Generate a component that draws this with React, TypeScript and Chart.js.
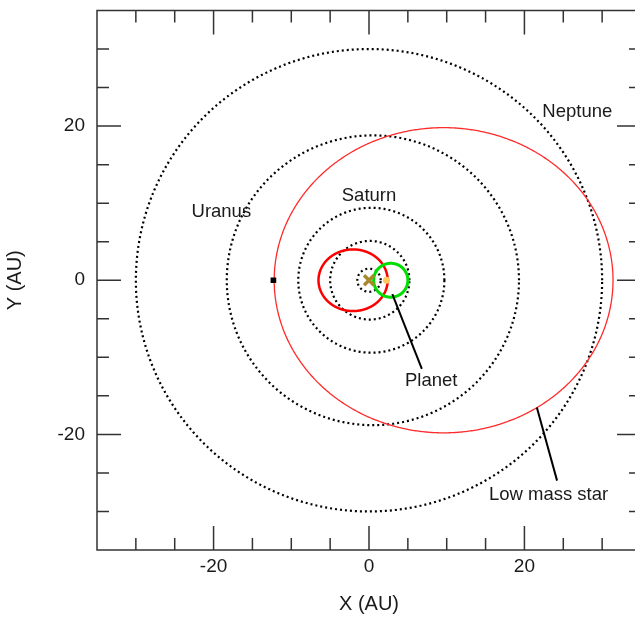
import { useEffect, useRef } from 'react';
import { Chart, registerables } from 'chart.js';

Chart.register(...registerables);

// Axis setup
const xRange = [-35, 35];
const yRange = [-35, 35];
const majorTicks = [-20, 0, 20];
const minorTicks = [-30, -25, -15, -10, -5, 5, 10, 15, 25, 30];

// Dotted planetary orbits (center x, center y, radius in AU)
const orbitNames = ['Inner', 'Jupiter', 'Saturn', 'Uranus', 'Neptune'];
const orbitCenterX = [0, 0.1, 0.3, 0.5, 0];
const orbitCenterY = [0, 0, 0, 0, 0];
const orbitRadius = [1.5, 5.1, 9.4, 18.8, 30];

// Red orbits (ellipses)
const redNames = ['Inner red orbit', 'Low mass star orbit'];
const redCenterX = [-2.05, 9.6];
const redCenterY = [0, 0];
const redSemiX = [4.45, 21.8];
const redSemiY = [4.0, 19.8];
const redWidths = [2.5, 1.3];

// Green planet orbit
const planetCenter = [2.8, 0];
const planetRadius = 2.2;

// Markers
const sunPoint = [{ x: 0, y: 0 }];
const starPoint = [{ x: 2.25, y: 0 }];
const squarePoint = [{ x: -12.3, y: 0 }];

// Annotation pointer lines
const planetPointer = [{ x: 3.0, y: -1.8 }, { x: 6.8, y: -11.5 }];
const starPointer = [{ x: 21.6, y: -16.5 }, { x: 24.2, y: -26.0 }];

// Text labels
const labelTexts = ['Neptune', 'Uranus', 'Saturn', 'Planet', 'Low mass star'];
const labelX = [26.8, -19.0, 0.0, 8.0, 23.1];
const labelY = [21.8, 8.9, 11.0, -13.0, -27.9];

const FONT = '"Liberation Sans", Arial, Helvetica, sans-serif';

function ellipsePoints(cx: number, cy: number, a: number, b: number) {
  const pts: { x: number; y: number }[] = [];
  for (let i = 0; i <= 360; i += 1) {
    const t = (i * Math.PI) / 180;
    pts.push({ x: cx + a * Math.cos(t), y: cy + b * Math.sin(t) });
  }
  return pts;
}

const framePlugin = {
  id: 'frameTicks',
  afterDatasetsDraw(chart: any) {
    const { ctx, chartArea } = chart;
    const xs = chart.scales.x;
    const ys = chart.scales.y;
    const { left, right, top, bottom } = chartArea;
    ctx.save();
    ctx.strokeStyle = '#333';
    ctx.lineWidth = 1.5;
    ctx.strokeRect(left, top, right - left, bottom - top);
    const drawX = (v: number, len: number) => {
      const px = xs.getPixelForValue(v);
      ctx.beginPath();
      ctx.moveTo(px, bottom);
      ctx.lineTo(px, bottom - len);
      ctx.moveTo(px, top);
      ctx.lineTo(px, top + len);
      ctx.stroke();
    };
    const drawY = (v: number, len: number) => {
      const py = ys.getPixelForValue(v);
      ctx.beginPath();
      ctx.moveTo(left, py);
      ctx.lineTo(left + len, py);
      ctx.moveTo(right, py);
      ctx.lineTo(right - len, py);
      ctx.stroke();
    };
    majorTicks.forEach((v) => { drawX(v, 24); drawY(v, 24); });
    minorTicks.forEach((v) => { drawX(v, 12); drawY(v, 12); });

    // labels
    ctx.fillStyle = '#1a1a1a';
    ctx.font = `18.5px ${FONT}`;
    ctx.textAlign = 'center';
    ctx.textBaseline = 'middle';
    labelTexts.forEach((t, i) => {
      ctx.fillText(t, xs.getPixelForValue(labelX[i]), ys.getPixelForValue(labelY[i]));
    });
    ctx.restore();
  },
};

export default function App() {
  const ref = useRef<HTMLCanvasElement | null>(null);

  useEffect(() => {
    if (!ref.current) return;
    const datasets: any[] = [];

    datasets.push({
      label: 'Sun',
      data: sunPoint,
      pointStyle: 'crossRot',
      pointRadius: 7,
      borderWidth: 3.5,
      borderColor: '#a88a2a',
      backgroundColor: '#a88a2a',
      showLine: false,
    });
    datasets.push({
      label: 'Star',
      data: starPoint,
      pointStyle: 'circle',
      pointRadius: 3.5,
      borderWidth: 0,
      backgroundColor: '#ffc860',
      showLine: false,
    });
    datasets.push({
      label: 'Square',
      data: squarePoint,
      pointStyle: 'rect',
      pointRadius: 4,
      borderWidth: 0,
      backgroundColor: '#000',
      showLine: false,
    });
    datasets.push({
      label: 'Planet pointer',
      data: planetPointer,
      showLine: true,
      borderColor: '#000',
      borderWidth: 2,
      pointRadius: 0,
    });
    datasets.push({
      label: 'Star pointer',
      data: starPointer,
      showLine: true,
      borderColor: '#000',
      borderWidth: 2,
      pointRadius: 0,
    });
    datasets.push({
      label: 'Planet',
      data: ellipsePoints(planetCenter[0], planetCenter[1], planetRadius, planetRadius),
      showLine: true,
      borderColor: '#00dd00',
      borderWidth: 3,
      tension: 0.001,
      pointRadius: 0,
    });
    redNames.forEach((n, i) => {
      datasets.push({
        label: n,
        data: ellipsePoints(redCenterX[i], redCenterY[i], redSemiX[i], redSemiY[i]),
        showLine: true,
        borderColor: i === 0 ? '#ff0000' : '#ff2a2a',
        borderWidth: redWidths[i],
        tension: 0.001,
        pointRadius: 0,
      });
    });
    orbitNames.forEach((n, i) => {
      datasets.push({
        label: n,
        data: ellipsePoints(orbitCenterX[i], orbitCenterY[i], orbitRadius[i], orbitRadius[i]),
        showLine: true,
        borderColor: '#000',
        borderWidth: 2.2,
        borderDash: [2, 3],
        pointRadius: 0,
      });
    });

    const chart = new Chart(ref.current, {
      type: 'scatter',
      data: { datasets },
      options: {
        animation: false,
        responsive: false,
        events: [],
        layout: { padding: { left: 0, right: 19, top: 10, bottom: 0 } },
        plugins: { legend: { display: false }, tooltip: { enabled: false } },
        scales: {
          x: {
            type: 'linear',
            min: xRange[0],
            max: xRange[1],
            grid: { display: false, drawTicks: false, tickLength: 0 },
            border: { display: false },
            afterBuildTicks: (s: any) => { s.ticks = majorTicks.map((v) => ({ value: v })); },
            afterFit: (s: any) => { s.height = 67; s.paddingLeft = 0; s.paddingRight = 0; },
            ticks: { color: '#1a1a1a', font: { family: FONT, size: 19 }, padding: 5, maxRotation: 0 },
            title: { display: true, text: 'X (AU)', color: '#1a1a1a', font: { family: FONT, size: 20 }, padding: { top: 0, bottom: 1 } },
          },
          y: {
            type: 'linear',
            min: yRange[0],
            max: yRange[1],
            grid: { display: false, drawTicks: false, tickLength: 0 },
            border: { display: false },
            afterBuildTicks: (s: any) => { s.ticks = majorTicks.map((v) => ({ value: v })); },
            afterFit: (s: any) => { s.width = 97; s.paddingTop = 0; s.paddingBottom = 0; },
            ticks: { color: '#1a1a1a', font: { family: FONT, size: 19 }, padding: 12 },
            title: { display: true, text: 'Y (AU)', color: '#1a1a1a', font: { family: FONT, size: 20 }, padding: { top: 3, bottom: 0 } },
          },
        },
      },
      plugins: [framePlugin],
    });
    return () => chart.destroy();
  }, []);

  return (
    <div style={{ position: 'fixed', left: 0, top: 0, width: 635, height: 617, overflow: 'hidden', background: '#fff' }}>
      <canvas ref={ref} width={660} height={617} style={{ display: 'block' }} />
    </div>
  );
}
